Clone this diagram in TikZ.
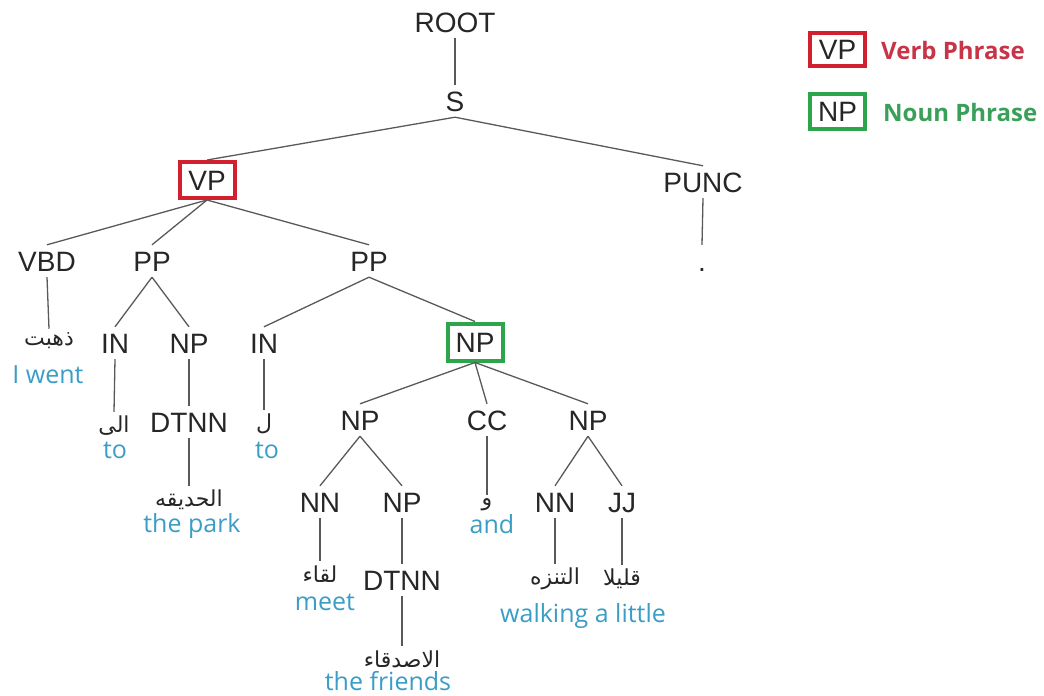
\documentclass[tikz,border=0pt]{standalone}
\usepackage{fontspec}
\setmainfont{Liberation Sans}
\newfontfamily\arabicfont[Script=Arabic]{DejaVu Sans}
\newfontfamily\glossfont{Open Sans}
\TeXXeTstate=1
\definecolor{tl}{HTML}{595959}
\definecolor{engblue}{HTML}{3A9DC6}
\definecolor{vpred}{HTML}{D2202F}
\definecolor{npgreen}{HTML}{2CA54B}
\definecolor{vptext}{HTML}{C83447}
\definecolor{nptext}{HTML}{3A9F58}
\definecolor{labtext}{HTML}{262626}
\tikzset{
 lab/.style={font=\fontsize{28}{30}\selectfont, text=labtext, text height=20pt, text depth=0pt, inner xsep=1pt, inner ysep=6pt},
 vpbox/.style={lab, draw=vpred, line width=4pt, minimum width=55pt, minimum height=36pt, inner sep=0pt},
 npbox/.style={lab, draw=npgreen, line width=4pt, minimum width=55pt, minimum height=37pt, inner sep=0pt},
 ar/.style={font=\arabicfont\fontsize{22}{24}\selectfont, text=labtext, inner xsep=2pt, inner ysep=4pt},
 en/.style={font=\glossfont\fontsize{25}{28}\selectfont, text=engblue, inner sep=0pt, anchor=base},
 br/.style={draw=tl, line width=1.3pt},
 legtxt/.style={font=\glossfont\bfseries\fontsize{24}{28}\selectfont, anchor=west, inner sep=0pt}
}
\begin{document}
\begin{tikzpicture}[x=1pt,y=-1pt]
\useasboundingbox (0,0) rectangle (1044,696);
% tree labels
\node[lab] (root) at (455,22) {ROOT};
\node[lab] (s) at (455,101) {S};
\node[vpbox] (vp) at (207,180) {VP};
\node[lab] (punc) at (703,182) {PUNC};
\node[lab] (vbd) at (47,261) {VBD};
\node[lab] (pp1) at (152,261) {PP};
\node[lab] (pp2) at (369,261) {PP};
\node[lab] (dot) at (702,261) {.};
\node[lab] (in1) at (115,343) {IN};
\node[lab] (np1) at (189,343) {NP};
\node[lab] (in2) at (264,343) {IN};
\node[npbox] (np2) at (475,342) {NP};
\node[lab] (dtnn1) at (189,422) {DTNN};
\node[lab] (np3) at (360,420) {NP};
\node[lab] (cc) at (487,420) {CC};
\node[lab] (np4) at (588,420) {NP};
\node[lab] (nn1) at (320,502) {NN};
\node[lab] (np5) at (402,502) {NP};
\node[lab] (nn2) at (555,502) {NN};
\node[lab] (jj) at (622,502) {JJ};
\node[lab] (dtnn2) at (402,580) {DTNN};
% arabic words
\node[ar] (a1) at (49,341) {\beginR ذهبت\endR};
\node[ar] (a2) at (114,426) {\beginR الى\endR};
\node[ar] (a3) at (264,424) {\beginR ل\endR};
\node[ar] (a4) at (189,500) {\beginR الحديقه\endR};
\node[ar] (a5) at (487,505) {\beginR و\endR};
\node[ar] (a6) at (320,574) {\beginR لقاء\endR};
\node[ar] (a7) at (555,579) {\beginR التنزه\endR};
\node[ar] (a8) at (622,579) {\beginR قليلا\endR};
\node[ar] (a9) at (402,659) {\beginR الاصدقاء\endR};
% english glosses
\node[en] (e1) at (48,383) {I went};
\node[en] (e2) at (115,458) {to};
\node[en] (e3) at (267,458) {to};
\node[en] (e4) at (192,532) {the park};
\node[en] (e5) at (492,533) {and};
\node[en] (e6) at (325,610) {meet};
\node[en] (e7) at (583,622) {walking a little};
\node[en] (e9) at (388,690) {the friends};
% branches
\draw[br] (root.south) -- (s.north);
\draw[br] (s.south) -- (vp.north);
\draw[br] (s.south) -- (punc.north);
\draw[br] (punc.south) -- (dot.north);
\draw[br] (vp.south) -- (vbd.north);
\draw[br] (vp.south) -- (pp1.north);
\draw[br] (vp.south) -- (pp2.north);
\draw[br] (vbd.south) -- (a1.north);
\draw[br] (pp1.south) -- (in1.north);
\draw[br] (pp1.south) -- (np1.north);
\draw[br] (pp2.south) -- (in2.north);
\draw[br] (pp2.south) -- (np2.north);
\draw[br] (in1.south) -- (a2.north);
\draw[br] (np1.south) -- (dtnn1.north);
\draw[br] (in2.south) -- (a3.north);
\draw[br] (dtnn1.south) -- (a4.north);
\draw[br] (np2.south) -- (np3.north);
\draw[br] (np2.south) -- (cc.north);
\draw[br] (np2.south) -- (np4.north);
\draw[br] (np3.south) -- (nn1.north);
\draw[br] (np3.south) -- (np5.north);
\draw[br] (cc.south) -- (a5.north);
\draw[br] (np4.south) -- (nn2.north);
\draw[br] (np4.south) -- (jj.north);
\draw[br] (nn1.south) -- (a6.north);
\draw[br] (np5.south) -- (dtnn2.north);
\draw[br] (dtnn2.south) -- (a9.north);
\draw[br] (nn2.south) -- (a7.north);
\draw[br] (jj.south) -- (a8.north);
% legend
\node[vpbox, minimum height=33pt] (lvp) at (837.5,49.5) {VP};
\node[legtxt, text=vptext] (lvpt) at (881,50) {Verb Phrase};
\node[npbox, minimum height=35pt] (lnp) at (837.5,111.5) {NP};
\node[legtxt, text=nptext] (lnpt) at (883,112) {Noun Phrase};
\end{tikzpicture}
\end{document}
